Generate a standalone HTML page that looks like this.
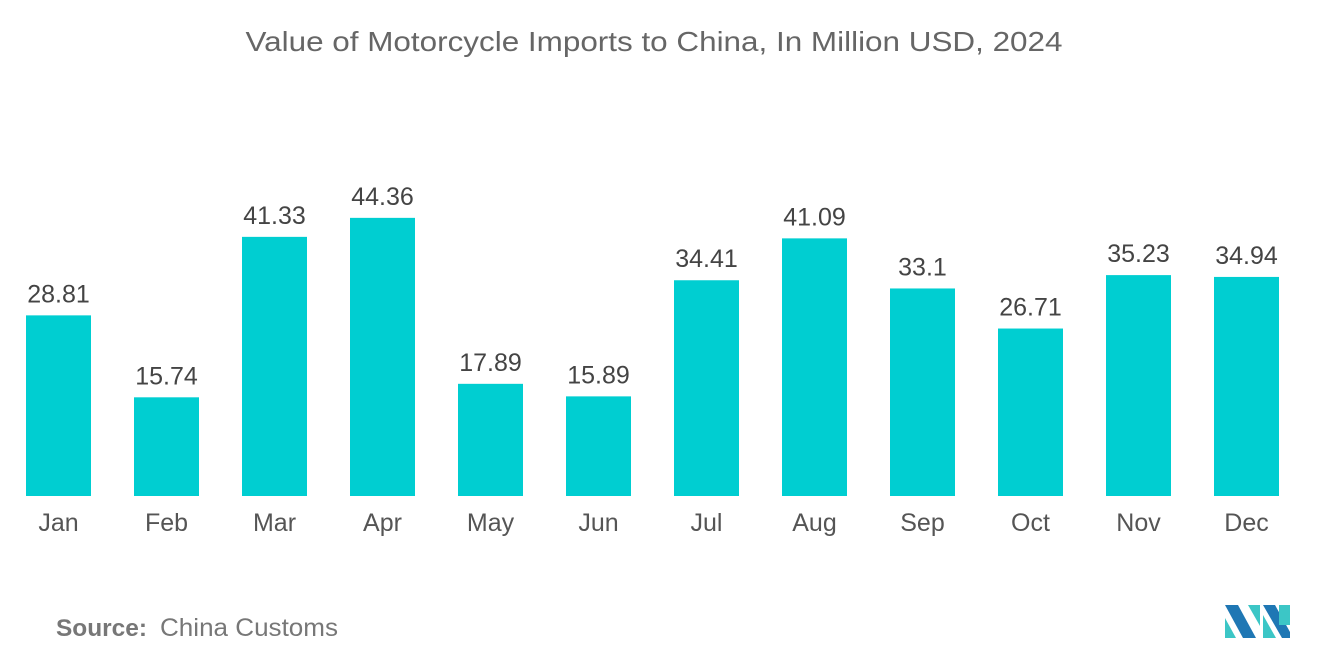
<!DOCTYPE html>
<html><head><meta charset="utf-8"><style>
body{margin:0;background:#fff;width:1320px;height:665px;overflow:hidden;font-family:"Liberation Sans",sans-serif}
</style></head><body>
<svg width="1320" height="665" id="chart">
<text x="654" y="51" text-anchor="middle" font-size="28" fill="#666" textLength="817" lengthAdjust="spacingAndGlyphs">Value of Motorcycle Imports to China, In Million USD, 2024</text>
<g id="bars"></g>
<text x="56" y="636" font-size="24" fill="#777" font-weight="bold" textLength="91" lengthAdjust="spacingAndGlyphs">Source:</text>
<text x="160" y="636" font-size="25" fill="#777" textLength="178" lengthAdjust="spacingAndGlyphs">China Customs</text>
<g>
<polygon points="1225,605 1238,605 1256,638 1243,638" fill="#1f77b4"/>
<polygon points="1225,618 1225,638 1236,638" fill="#3cc6c6"/>
<polygon points="1248,605 1260,605 1260,626" fill="#3cc6c6"/>
<polygon points="1263,605 1275,605 1290,632 1290,638 1282,638" fill="#1f77b4"/>
<polygon points="1263,615 1263,638 1276,638" fill="#3cc6c6"/>
<rect x="1279" y="605" width="11" height="20" fill="#3cc6c6"/>
</g>
</svg>
<script>
const categories=["Jan","Feb","Mar","Apr","May","Jun","Jul","Aug","Sep","Oct","Nov","Dec"];
const values=[28.81,15.74,41.33,44.36,17.89,15.89,34.41,41.09,33.1,26.71,35.23,34.94];
const labels=["28.81","15.74","41.33","44.36","17.89","15.89","34.41","41.09","33.1","26.71","35.23","34.94"];
const NS="http://www.w3.org/2000/svg";
const x0=4.5,band=108,barW=65,base=496,scale=6.27;
const xs=i=>x0+band*i+band/2;
const ys=v=>base-v*scale;
const g=document.getElementById('bars');
categories.forEach((c,i)=>{
  const r=document.createElementNS(NS,'rect');
  r.setAttribute('x',xs(i)-barW/2);r.setAttribute('y',ys(values[i]));
  r.setAttribute('width',barW);r.setAttribute('height',base-ys(values[i]));
  r.setAttribute('fill','#00CED1');
  
  
  g.appendChild(r);
  const t=document.createElementNS(NS,'text');
  t.setAttribute('x',xs(i));t.setAttribute('y',ys(values[i])-13);
  t.setAttribute('text-anchor','middle');t.setAttribute('font-size','25');t.setAttribute('fill','#444');
  t.textContent=labels[i];
  
  
  g.appendChild(t);
  const m=document.createElementNS(NS,'text');
  m.setAttribute('x',xs(i));m.setAttribute('y',531);
  m.setAttribute('text-anchor','middle');m.setAttribute('font-size','25');m.setAttribute('fill','#555');
  m.textContent=c;
  
  
  g.appendChild(m);
});
</script>
</body></html>
